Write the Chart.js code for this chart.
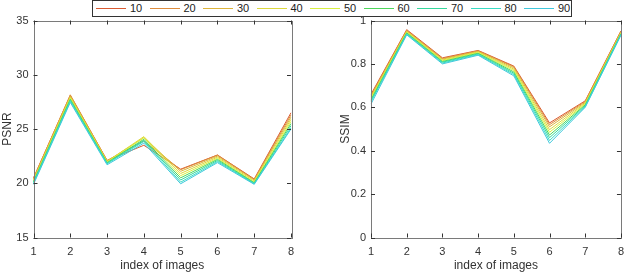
<!DOCTYPE html>
<html>
<head>
<meta charset="utf-8">
<script src="https://cdn.jsdelivr.net/npm/chart.js@4/dist/chart.umd.min.js"></script>
<style>
    body { margin: 0; background: #fff; width: 632px; height: 274px; overflow: hidden; position: relative; font-family: "Liberation Sans", Arial, sans-serif; }
    canvas { position: absolute; top: 0; }
    #psnrChart { left: 0; }
    #ssimChart { left: 316px; }
    #legend { position: absolute; left: 92px; top: 0; width: 478px; height: 15px; border: 1px solid #333; background: #fff; z-index: 2; }
    .item { position: absolute; top: 0; height: 15px; font-size: 11px; color: #222; line-height: 15px; }
    .item span.line { position: absolute; left: 0; top: 7px; width: 30px; height: 1px; }
    .item span.label { position: absolute; left: 34px; top: 0; }
</style>
</head>
<body>
<div id="legend"></div>
<canvas id="psnrChart" width="316" height="274"></canvas>
<canvas id="ssimChart" width="316" height="274"></canvas>
<script>
// data
const imageIndex = ["1", "2", "3", "4", "5", "6", "7", "8"];
const seriesNames = ["10", "20", "30", "40", "50", "60", "70", "80", "90"];
const seriesColors = ["#d95a30", "#dd8c3c", "#ddb43a", "#dcd83c", "#d8f040", "#4cd65a", "#34d89c", "#38dcc4", "#40c8dc"];

const psnr10 = [20.5, 28.1, 22.1, 23.5, 21.3, 22.6, 20.4, 26.5];
const psnr20 = [20.45, 28.15, 22.1, 23.9, 21.25, 22.6, 20.35, 26.3];
const psnr30 = [20.4, 28.05, 22.05, 24.2, 21.1, 22.5, 20.3, 26.1];
const psnr40 = [20.3, 27.95, 22.0, 24.3, 20.9, 22.4, 20.2, 25.9];
const psnr50 = [20.2, 27.85, 21.95, 24.2, 20.7, 22.3, 20.1, 25.7];
const psnr60 = [20.15, 27.75, 21.9, 24.05, 20.5, 22.2, 20.05, 25.5];
const psnr70 = [20.1, 27.65, 21.85, 23.95, 20.3, 22.1, 20.0, 25.3];
const psnr80 = [20.0, 27.55, 21.8, 23.85, 20.1, 22.0, 19.95, 25.1];
const psnr90 = [19.9, 27.45, 21.7, 23.7, 19.95, 21.9, 19.9, 25.0];

const ssim10 = [0.66, 0.958, 0.828, 0.862, 0.79, 0.528, 0.63, 0.952];
const ssim20 = [0.655, 0.955, 0.825, 0.86, 0.787, 0.52, 0.627, 0.95];
const ssim30 = [0.65, 0.952, 0.822, 0.858, 0.782, 0.51, 0.623, 0.947];
const ssim40 = [0.645, 0.949, 0.818, 0.855, 0.776, 0.497, 0.619, 0.944];
const ssim50 = [0.64, 0.946, 0.815, 0.852, 0.77, 0.485, 0.615, 0.941];
const ssim60 = [0.635, 0.943, 0.811, 0.849, 0.763, 0.472, 0.611, 0.939];
const ssim70 = [0.63, 0.94, 0.808, 0.846, 0.757, 0.46, 0.607, 0.937];
const ssim80 = [0.625, 0.937, 0.804, 0.843, 0.751, 0.447, 0.603, 0.935];
const ssim90 = [0.615, 0.934, 0.80, 0.84, 0.745, 0.434, 0.60, 0.932];

const psnrSeries = [psnr10, psnr20, psnr30, psnr40, psnr50, psnr60, psnr70, psnr80, psnr90];
const ssimSeries = [ssim10, ssim20, ssim30, ssim40, ssim50, ssim60, ssim70, ssim80, ssim90];

// legend (html, one row)
const legend = document.getElementById("legend");
seriesNames.forEach((name, i) => {
    const item = document.createElement("div");
    item.className = "item";
    item.style.left = (3 + i * 53.5) + "px";
    item.innerHTML = '<span class="line" style="background:' + seriesColors[i] + '"></span><span class="label">' + name + '</span>';
    legend.appendChild(item);
});

// box around the plot area with inward ticks, like matlab
const boxPlugin = {
    id: "box",
    afterDraw(chart) {
        const ctx = chart.ctx;
        const a = chart.chartArea;
        const x = chart.scales.x;
        const y = chart.scales.y;
        ctx.save();
        ctx.strokeStyle = "#7a7a7a";
        ctx.lineWidth = 1;
        ctx.strokeRect(Math.round(a.left) + 0.5, Math.round(a.top) + 0.5, Math.round(a.right - a.left), Math.round(a.bottom - a.top));
        ctx.strokeStyle = "#333";
        ctx.beginPath();
        x.ticks.forEach((t, i) => {
            const px = Math.round(x.getPixelForTick(i)) + 0.5;
            ctx.moveTo(px, a.bottom); ctx.lineTo(px, a.bottom - 4);
            ctx.moveTo(px, a.top); ctx.lineTo(px, a.top + 4);
        });
        y.ticks.forEach((t, i) => {
            const py = Math.round(y.getPixelForTick(i)) + 0.5;
            ctx.moveTo(a.left, py); ctx.lineTo(a.left + 4, py);
            ctx.moveTo(a.right, py); ctx.lineTo(a.right - 4, py);
        });
        ctx.stroke();
        ctx.restore();
    }
};

function makeChart(id, series, yTitle, yMin, yMax, yStep, padLeft, padRight, yWidth) {
    const ctx = document.getElementById(id).getContext("2d");
    return new Chart(ctx, {
        type: "line",
        data: {
            labels: imageIndex,
            datasets: series.map((vals, i) => ({
                label: seriesNames[i],
                data: vals,
                borderColor: seriesColors[i],
                backgroundColor: seriesColors[i],
                borderWidth: 1,
                pointRadius: 0,
                tension: 0,
                order: series.length - i,
            })),
        },
        options: {
            responsive: false,
            animation: false,
            devicePixelRatio: 1,
            layout: { padding: { left: padLeft, right: padRight, top: 20.5, bottom: 0 } },
            plugins: { legend: { display: false }, tooltip: { enabled: false } },
            scales: {
                x: {
                    grid: { display: false, drawTicks: false },
                    border: { display: false },
                    ticks: { padding: 8, color: "#333", font: { family: "Liberation Sans", size: 11 }, maxRotation: 0 },
                    title: { display: true, text: "index of images", color: "#333", padding: { top: 0, bottom: 1 }, font: { family: "Liberation Sans", size: 12 } },
                    afterFit: (scale) => { scale.height = 36.5; },
                },
                y: {
                    min: yMin,
                    max: yMax,
                    grid: { display: false, drawTicks: false },
                    border: { display: false },
                    ticks: {
                        stepSize: yStep,
                        padding: 5,
                        color: "#333",
                        font: { family: "Liberation Sans", size: 11 },
                        callback: (v) => String(Math.round(v * 10) / 10),
                    },
                    title: { display: true, text: yTitle, color: "#333", padding: 0, font: { family: "Liberation Sans", size: 12 } },
                    afterFit: (scale) => { scale.width = yWidth; },
                },
            },
        },
        plugins: [boxPlugin],
    });
}

makeChart("psnrChart", psnrSeries, "PSNR", 15, 35, 5, 0, 25, 33.5);
makeChart("ssimChart", ssimSeries, "SSIM", 0, 1, 0.2, 22, 4, 33);
</script>
</body>
</html>
